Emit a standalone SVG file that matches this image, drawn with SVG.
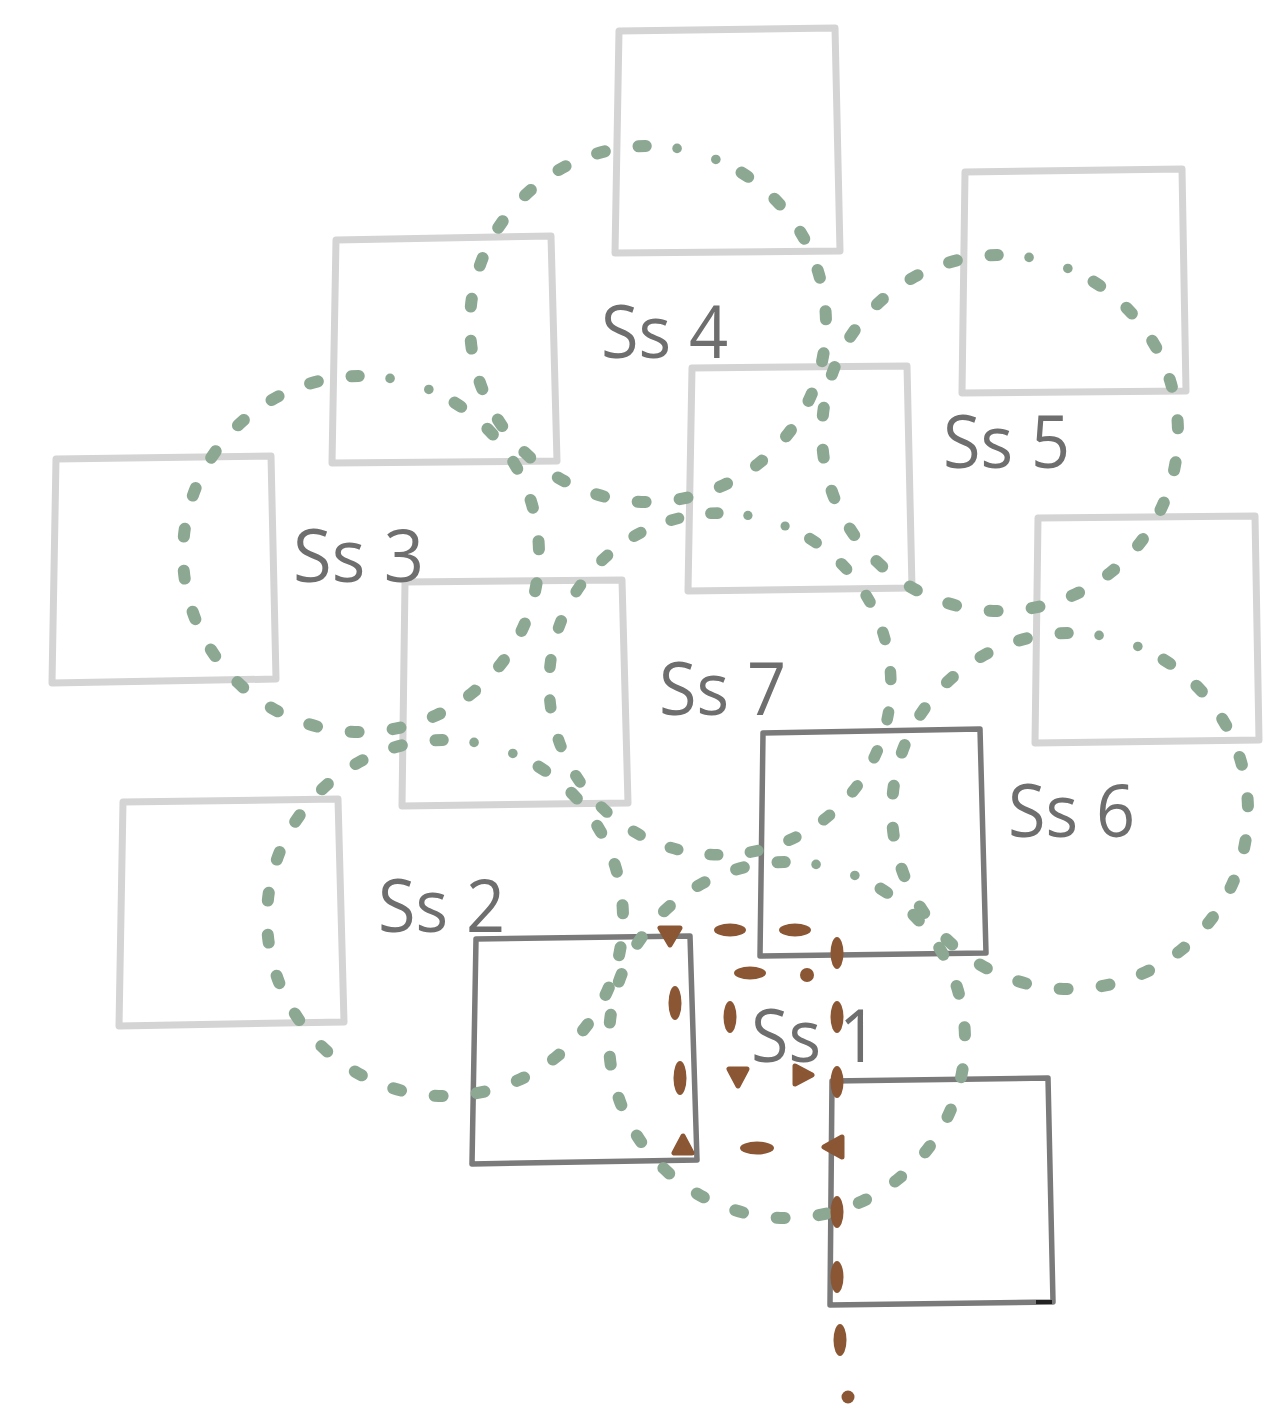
<svg xmlns="http://www.w3.org/2000/svg" width="1272" height="1416" viewBox="0 0 1272 1416">
<defs>
<style>
.sq-light{fill:none;stroke:#d4d4d4;stroke-width:7;stroke-linejoin:round;stroke-linecap:round}
.sq-dark{fill:none;stroke:#7a7a7a;stroke-width:5.5;stroke-linejoin:round;stroke-linecap:round}
.lbl{font-family:"Open Sans","Noto Sans","DejaVu Sans",sans-serif;font-size:74px;fill:#6e6e6e}
.dots{fill:none;stroke:#8ca792;stroke-width:12;stroke-linecap:round;stroke-dasharray:8 34.07}
.sdot{fill:#8ca792}
.br{fill:#8a5634}
.brt{fill:#8a5634;stroke:#8a5634;stroke-width:5;stroke-linejoin:round}
</style>
<g id="ring">
<path class="dots" d="M93.56,-151.43 A178,178 0 1 1 -2.21,-177.99"/>
<circle class="sdot" cx="29.07" cy="-175.61" r="4.8"/>
<circle class="sdot" cx="67.83" cy="-164.57" r="4.8"/>
</g>
</defs>
<rect width="1272" height="1416" fill="#ffffff"/>

<g id="square-1"><path class="sq-light" d="M619,31 L835,28 L840,251 L615,253 Z"/></g>
<g id="square-2"><path class="sq-light" d="M965,172 L1182,169 L1186,391 L962,393 Z"/></g>
<g id="square-3"><path class="sq-light" d="M336,240 L551,236 L557,461 L332,463 Z"/></g>
<g id="square-4"><path class="sq-light" d="M692,368 L907,366 L912,588 L688,591 Z"/></g>
<g id="square-5"><path class="sq-light" d="M56,459 L271,456 L276,679 L52,683 Z"/></g>
<g id="square-6"><path class="sq-light" d="M1038,518 L1255,516 L1259,740 L1035,743 Z"/></g>
<g id="square-7"><path class="sq-light" d="M405,582 L622,580 L628,803 L402,806 Z"/></g>
<g id="square-9"><path class="sq-light" d="M123,802 L338,799 L344,1022 L119,1026 Z"/></g>
<g id="square-8"><path class="sq-dark" d="M763,733 L980,729 L986,953 L760,956 Z"/></g>
<g id="square-10"><path class="sq-dark" d="M476,939 L690,936 L697,1160 L472,1164 Z"/></g>
<g id="square-11"><path class="sq-dark" d="M832,1081 L1048,1078 L1053,1302 L830,1305 Z"/><path d="M1036,1302 L1052,1302" stroke="#222" stroke-width="4"/></g>

<g id="zone-ss4"><use href="#ring" transform="translate(648,324)"/></g>
<g id="zone-ss5"><use href="#ring" transform="translate(1000,433)"/></g>
<g id="zone-ss3"><use href="#ring" transform="translate(361,554)"/></g>
<g id="zone-ss7"><use href="#ring" transform="translate(720,684) scale(0.96)"/></g>
<g id="zone-ss6"><use href="#ring" transform="translate(1070,811)"/></g>
<g id="zone-ss2"><use href="#ring" transform="translate(445,918)"/></g>
<g id="zone-ss1"><use href="#ring" transform="translate(787,1040)"/></g>

<g id="connectors">
<ellipse class="br" cx="730" cy="930" rx="16" ry="6.5"/>
<ellipse class="br" cx="795" cy="930" rx="16" ry="6.5"/>
<ellipse class="br" cx="750" cy="973" rx="16" ry="6.5"/>
<ellipse class="br" cx="757" cy="1148" rx="17" ry="6.5"/>
<ellipse class="br" cx="837" cy="953" rx="6.5" ry="16"/>
<ellipse class="br" cx="675" cy="1003" rx="6.5" ry="17"/>
<ellipse class="br" cx="680" cy="1078" rx="6.5" ry="17"/>
<ellipse class="br" cx="730" cy="1017" rx="6.5" ry="16"/>
<ellipse class="br" cx="837" cy="1017" rx="6.5" ry="16"/>
<ellipse class="br" cx="837" cy="1082" rx="6.5" ry="16"/>
<ellipse class="br" cx="837" cy="1212" rx="6.5" ry="16"/>
<ellipse class="br" cx="837" cy="1277" rx="6.5" ry="16"/>
<ellipse class="br" cx="840" cy="1340" rx="6.5" ry="16"/>
<circle class="br" cx="807" cy="975" r="7"/>
<circle class="br" cx="848" cy="1397" r="6.5"/>
<polygon class="brt" points="660,928 680,928 670,945"/>
<polygon class="brt" points="729,1069 747,1069 738,1086"/>
<polygon class="brt" points="795,1066 795,1084 812,1075"/>
<polygon class="brt" points="683,1136 674,1153 692,1153"/>
<polygon class="brt" points="842,1137 842,1157 824,1147"/>
</g>

<g id="label-ss4"><text class="lbl" x="601" y="358" textLength="127" lengthAdjust="spacingAndGlyphs">Ss 4</text></g>
<g id="label-ss5"><text class="lbl" x="943" y="468" textLength="127" lengthAdjust="spacingAndGlyphs">Ss 5</text></g>
<g id="label-ss3"><text class="lbl" x="293" y="582" textLength="131" lengthAdjust="spacingAndGlyphs">Ss 3</text></g>
<g id="label-ss7"><text class="lbl" x="659" y="715" textLength="127" lengthAdjust="spacingAndGlyphs">Ss 7</text></g>
<g id="label-ss6"><text class="lbl" x="1008" y="837" textLength="127" lengthAdjust="spacingAndGlyphs">Ss 6</text></g>
<g id="label-ss2"><text class="lbl" x="378" y="932" textLength="127" lengthAdjust="spacingAndGlyphs">Ss 2</text></g>
<g id="label-ss1"><text class="lbl" x="751" y="1062" textLength="127" lengthAdjust="spacingAndGlyphs">Ss 1</text></g>
</svg>
